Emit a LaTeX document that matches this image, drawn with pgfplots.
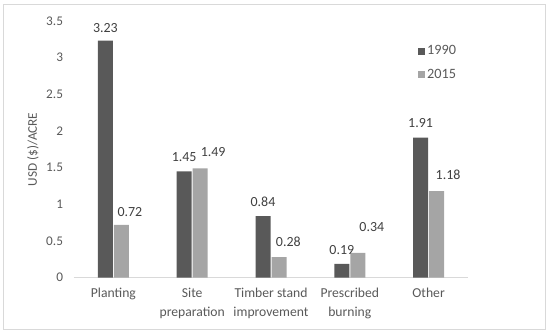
\documentclass[border=0pt]{standalone}
\usepackage{pgfplots}
\usepackage{pgfplotstable}
\pgfplotsset{compat=1.18}
\usepackage{fontspec}
\setmainfont{Carlito}
\definecolor{darkbar}{HTML}{595959}
\definecolor{lightbar}{HTML}{A5A5A5}
\definecolor{txt}{HTML}{595959}
\definecolor{lbl}{HTML}{404040}
\definecolor{frame}{HTML}{D9D9D9}
\pgfplotstableread{
x y dx dy lab
0 3.23 0 5 3.23
1 1.45 0 6 1.45
2 0.84 0 6 0.84
3 0.19 0 6 0.19
4 1.91 0 6 1.91
}\darktab
\pgfplotstableread{
x y dx dy lab
0 0.72 8.5 5 0.72
1 1.49 13 8 1.49
2 0.28 9.3 6.8 0.28
3 0.34 14 18 0.34
4 1.18 11.5 8 1.18
}\lighttab
\begin{document}
\begin{tikzpicture}[x=1bp,y=1bp]
\path[use as bounding box] (-74,-55.3) rectangle (476,277.7);
\draw[frame, line width=1bp] (-70,-51.3) rectangle (471.7,273.7);
\begin{axis}[
  at={(0,0)}, anchor=south west,
  scale only axis, width=394bp, height=256.8bp,
  xmin=-0.5, xmax=4.5, ymin=0, ymax=3.5,
  ytick={0,0.5,...,3.5},
  yticklabels={0,0.5,1,1.5,2,2.5,3,3.5},
  xtick={0,1,2,3,4},
  xticklabels={Planting,Site\\preparation,Timber stand\\improvement,Prescribed\\burning,Other},
  xticklabel style={align=center, text=txt, font=\fontsize{13.7}{19}\selectfont, yshift=-7bp},
  yticklabel style={text=txt, font=\fontsize{13.3}{16}\selectfont, xshift=-7.5bp},
  /pgf/number format/assume math mode=true,
  axis x line=bottom, axis y line=left,
  x axis line style={draw=frame, line width=1bp, -},
  y axis line style={draw=none},
  major tick length=0,
  ybar, bar width=15bp,
  ylabel={USD (\$)/ACRE},
  ylabel style={text=txt, font=\fontsize{13.3}{15}\selectfont, at={(-41bp,0.5)}, anchor=center},
  nodes near coords,
  visualization depends on={\thisrow{dx} \as \dx},
  visualization depends on={\thisrow{dy} \as \dy},
  nodes near coords style={text=lbl, font=\fontsize{14}{16}\selectfont, xshift=\dx bp, yshift=\dy bp},
  point meta=explicit symbolic,
  legend style={draw=none, at={(0.873,0.912)}, anchor=north west, font=\fontsize{14.3}{17}\selectfont, text=txt, row sep=9bp, fill=none, inner sep=0pt},
  legend cell align=left,
  legend image code/.code={\fill[#1] (0bp,-3.5bp) rectangle (7bp,3.5bp);},
]
\addplot[fill=darkbar, draw=none, bar shift=-8bp] table[x=x, y=y, meta=lab] {\darktab};
\addplot[fill=lightbar, draw=none, bar shift=8bp] table[x=x, y=y, meta=lab] {\lighttab};
\legend{1990,2015}
\end{axis}
\end{tikzpicture}
\end{document}
